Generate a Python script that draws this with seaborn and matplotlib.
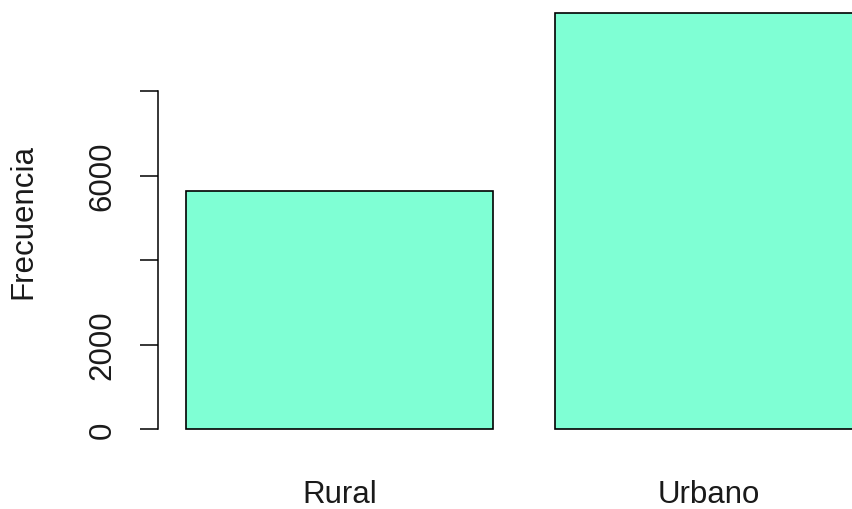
import matplotlib
matplotlib.use("Agg")
import matplotlib.pyplot as plt
import seaborn as sns

# datos
zona = ["Rural", "Urbano"]
frecuencia = [5640, 9860]
yticks = [0, 2000, 4000, 6000, 8000]
ytick_labels = ["0", "2000", "", "6000", ""]

sns.set_style("white")
plt.rcParams["font.family"] = ["Liberation Sans", "DejaVu Sans"]

fig = plt.figure(figsize=(8.53, 5.10), dpi=100)
# region del grafico como en barplot() de R (sale por la derecha)
ax = fig.add_axes([158 / 853, 0.1243, 733 / 853, 0.8816])

sns.barplot(x=zona, y=frecuencia, color="#7FFFD4", saturation=1,
            edgecolor="black", linewidth=1.2, width=1 / 1.2, ax=ax)

ax.set_xlim(-0.4926, 1.494)
ax.set_ylim(-394, 10252)

for s in ["top", "right", "bottom"]:
    ax.spines[s].set_visible(False)
ax.spines["left"].set_bounds(0, 8000)
ax.spines["left"].set_linewidth(1.1)
ax.spines["left"].set_color("black")

ax.set_yticks(yticks)
ax.set_yticklabels(ytick_labels, rotation=90, va="center")
ax.tick_params(axis="y", length=13, width=1.1, color="black", pad=16,
               labelsize=22.5, labelcolor="#1a1a1a", left=True)
ax.tick_params(axis="x", length=0, pad=24, labelsize=22.5, labelcolor="#1a1a1a")

ax.set_ylabel("Frecuencia", fontsize=22.5, color="#1a1a1a")
ax.yaxis.set_label_coords(-0.163, 0.5)

fig.savefig("out.png", dpi=100)
